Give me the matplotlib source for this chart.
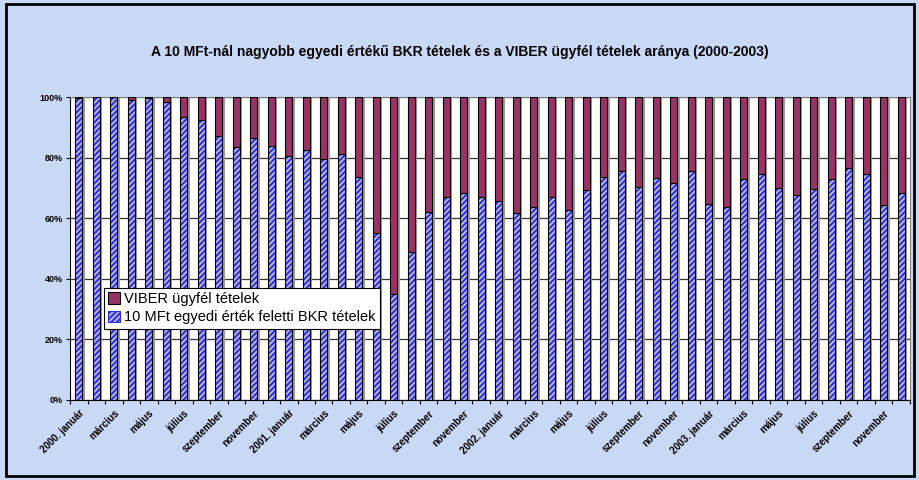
import numpy as np
import matplotlib
matplotlib.use('Agg')
import matplotlib.pyplot as plt
from matplotlib.patches import Rectangle, Patch

plt.rcParams['font.family'] = ['Liberation Sans', 'DejaVu Sans']
plt.rcParams['hatch.linewidth'] = 1.4

title = 'A 10 MFt-nál nagyobb egyedi értékű BKR tételek és a VIBER ügyfél tételek aránya (2000-2003)'

months = ['január', 'február', 'március', 'április', 'május', 'június', 'július',
          'augusztus', 'szeptember', 'október', 'november', 'december']
years = [2000, 2001, 2002, 2003]
labels = []
for y in years:
    for i, m in enumerate(months):
        labels.append(f'{y}. {m}' if i == 0 else m)

# share of BKR items above 10 MFt (%)
bkr = [99.7, 100, 100, 99.0, 99.8, 98.5, 93.3, 92.6, 87.2, 83.4, 86.4, 83.7,
       80.4, 82.4, 79.6, 81.1, 73.5, 55.0, 35.0, 48.7, 62.0, 67.1, 68.4, 67.1,
       65.7, 61.6, 63.6, 67.1, 62.6, 69.3, 73.6, 75.5, 70.2, 73.4, 71.7, 75.5,
       64.7, 63.7, 73.0, 74.5, 69.9, 67.8, 69.5, 73.0, 76.5, 74.5, 64.4, 68.5]
# share of VIBER client items (%)
viber = [0.3, 0, 0, 1.0, 0.2, 1.5, 6.7, 7.4, 12.8, 16.6, 13.6, 16.3,
         19.6, 17.6, 20.4, 18.9, 26.5, 45.0, 65.0, 51.3, 38.0, 32.9, 31.6, 32.9,
         34.3, 38.4, 36.4, 32.9, 37.4, 30.7, 26.4, 24.5, 29.8, 26.6, 28.3, 24.5,
         35.3, 36.3, 27.0, 25.5, 30.1, 32.2, 30.5, 27.0, 23.5, 25.5, 35.6, 31.5]

fig = plt.figure(figsize=(9.2, 4.8), dpi=100)
fig.patch.set_facecolor('#c9d9f5')
fig.patches.append(Rectangle((0.006, 0.008), 0.988, 0.984, transform=fig.transFigure,
                             fill=False, edgecolor='black', linewidth=2))

ax = fig.add_axes([0.0761, 0.1667, 0.913, 0.631])
ax.set_facecolor('white')

x = np.arange(len(labels))
w = 0.4
tot = np.array(bkr) + np.array(viber)

# shadow
ax.bar(x + 0.14, tot, w, color='#9a9a9a', zorder=2)
ax.bar(x, bkr, w, color='#b4b4f6', edgecolor='#2e2ec8', hatch='//////',
       linewidth=0, zorder=3)
ax.bar(x, bkr, w, fill=False, edgecolor='black', linewidth=0.8, zorder=4)
ax.bar(x, viber, w, bottom=bkr, color='#993366', edgecolor='black',
       linewidth=0.8, zorder=4)

ax.set_xlim(-0.5, len(labels) - 0.5)
ax.set_ylim(0, 100)
ax.set_yticks(np.arange(0, 101, 20))
ax.set_yticklabels([f'{v}%' for v in range(0, 101, 20)], fontsize=6.5, fontweight='bold')
ax.yaxis.grid(True, color='#333333', linewidth=0.9, zorder=0)
ax.set_axisbelow(True)

ax.set_xticks(x[::2])
ax.set_xticklabels(labels[::2], rotation=45, ha='right', rotation_mode='anchor',
                   fontsize=7, fontweight='bold')
ax.set_xticks(np.arange(-0.5, len(labels), 1), minor=True)
ax.tick_params(axis='x', which='major', length=0, pad=6)
ax.tick_params(axis='x', which='minor', length=3, direction='out', width=0.8)
ax.tick_params(axis='y', length=3, width=0.8, pad=2)

for s in ['top', 'right']:
    ax.spines[s].set_color('#808080')
for s in ['left', 'bottom']:
    ax.spines[s].set_color('black')

fig.text(0.5, 0.892, title, ha='center', va='center', fontsize=10, fontweight='bold')

handles = [Patch(facecolor='#993366', edgecolor='black', linewidth=0.8),
           Patch(facecolor='#b4b4f6', edgecolor='#2e2ec8', hatch='//////', linewidth=0.8)]
leg = ax.legend(handles, ['VIBER ügyfél tételek', '10 MFt egyedi érték feletti BKR tételek'],
                loc='lower left', bbox_to_anchor=(0.04, 0.235), fontsize=10.5,
                frameon=True, fancybox=False, framealpha=1, edgecolor='black',
                handlelength=0.8, handleheight=0.8, handletextpad=0.3,
                borderpad=0.3, labelspacing=0.3, borderaxespad=0)
leg.get_frame().set_linewidth(0.8)
leg.set_zorder(10)

plt.savefig('out.png', dpi=100, facecolor=fig.get_facecolor())
